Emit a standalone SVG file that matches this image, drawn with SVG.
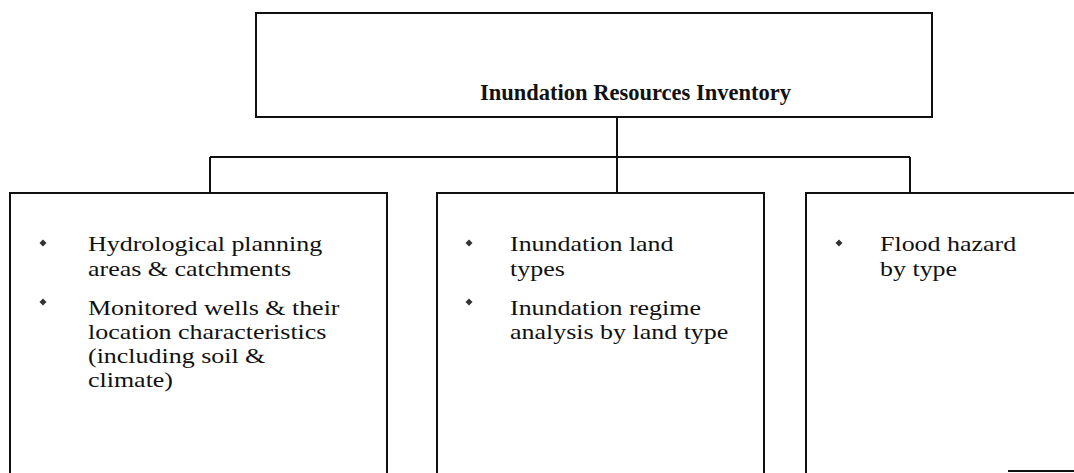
<svg xmlns="http://www.w3.org/2000/svg" width="1074" height="473" viewBox="0 0 1074 473">
<style>
.box{fill:#fff;stroke:#111;stroke-width:2}
.con{fill:none;stroke:#111;stroke-width:2}
.title{font-family:"Liberation Serif","Times New Roman",serif;font-weight:bold;font-size:22.5px;fill:#111}
.body{font-family:"Liberation Serif","Times New Roman",serif;font-size:22px;fill:#111}
.bul{fill:#333}
</style>
<defs>
<path id="dia" d="M0,-3.5 L3.5,0 L0,3.5 L-3.5,0 Z"/>
</defs>
<rect width="1074" height="473" fill="#fff"/>
<g id="connectors">
<path class="con" d="M617,117 V193"/>
<path class="con" d="M210,157 H910"/>
<path class="con" d="M210,157 V193"/>
<path class="con" d="M910,157 V193"/>
</g>
<g id="root">
<rect class="box" x="256" y="13" width="676" height="104"/>
<text class="title" x="480" y="100">Inundation Resources Inventory</text>
</g>
<g id="node1">
<rect class="box" x="10" y="193" width="377" height="300"/>
<use href="#dia" class="bul" x="43" y="243"/>
<use href="#dia" class="bul" x="43" y="302"/>
<g transform="translate(88,0) scale(1.18,1)">
<text class="body" x="0" y="251">Hydrological planning</text>
<text class="body" x="0" y="276">areas &amp; catchments</text>
<text class="body" x="0" y="315">Monitored wells &amp; their</text>
<text class="body" x="0" y="339">location characteristics</text>
<text class="body" x="0" y="363">(including soil &amp;</text>
<text class="body" x="0" y="387">climate)</text>
</g>
</g>
<g id="node2">
<rect class="box" x="437" y="193" width="327" height="300"/>
<use href="#dia" class="bul" x="469" y="243"/>
<use href="#dia" class="bul" x="469" y="302"/>
<g transform="translate(510,0) scale(1.18,1)">
<text class="body" x="0" y="251">Inundation land</text>
<text class="body" x="0" y="276">types</text>
<text class="body" x="0" y="315">Inundation regime</text>
<text class="body" x="0" y="339">analysis by land type</text>
</g>
</g>
<g id="node3">
<rect class="box" x="806" y="193" width="300" height="300"/>
<path class="con" d="M1008,471 H1074"/>
<use href="#dia" class="bul" x="839" y="243"/>
<g transform="translate(880,0) scale(1.18,1)">
<text class="body" x="0" y="251">Flood hazard</text>
<text class="body" x="0" y="276">by type</text>
</g>
</g>
</svg>
